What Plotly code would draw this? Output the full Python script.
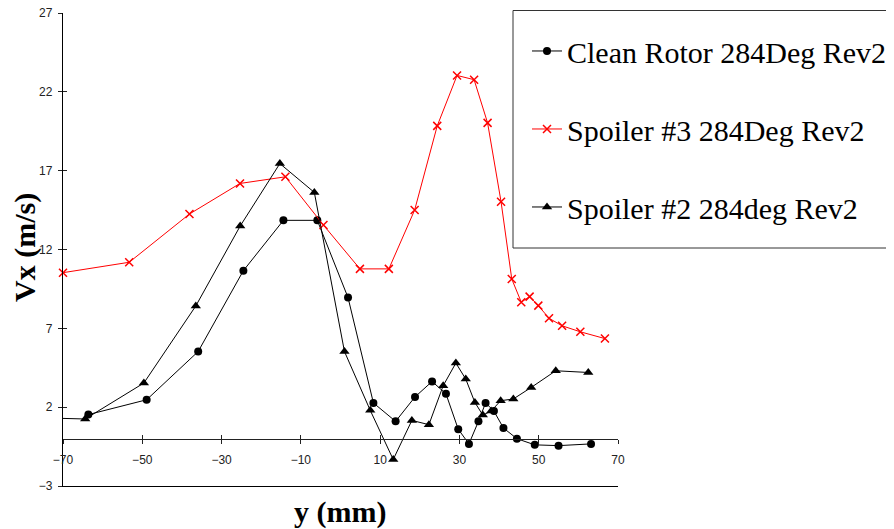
import plotly.graph_objects as go

# ---- data ----
clean_x = [-63.6, -48.9, -35.9, -24.5, -14.4, -5.85, 1.9, 8.3, 13.9, 18.8, 23.1, 26.6,
           29.7, 32.4, 34.8, 36.6, 38.7, 41.1, 44.5, 49.0, 55.0, 63.2]
clean_y = [1.53, 2.47, 5.53, 10.66, 13.85, 13.85, 8.95, 2.27, 1.1, 2.65, 3.63, 2.85,
           0.6, -0.33, 1.1, 2.27, 1.75, 0.68, 0.0, -0.39, -0.44, -0.33]

sp3_x = [-70, -53.3, -38.1, -25.35, -13.9, -4.3, 4.9, 12.2, 18.7, 24.4, 29.4, 33.7,
         37.1, 40.5, 43.2, 45.6, 47.7, 49.9, 52.6, 55.9, 60.5, 66.7]
sp3_y = [10.53, 11.19, 14.25, 16.19, 16.61, 13.55, 10.77, 10.77, 14.5, 19.84, 23.04, 22.77,
         20.03, 15.03, 10.13, 8.66, 9.01, 8.44, 7.64, 7.16, 6.78, 6.35]

sp2_x = [-72, -64.4, -49.6, -36.5, -25.3, -15.3, -6.6, 1.0, 7.5, 13.3, 18.0, 22.3, 25.9,
         29.1, 31.6, 33.9, 35.9, 38.0, 40.4, 43.6, 48.1, 54.3, 62.5]
sp2_y = [1.3, 1.25, 3.53, 8.42, 13.49, 17.45, 15.62, 5.53, 1.8, -1.32, 1.16, 0.89, 3.36,
         4.8, 3.78, 2.3, 1.5, 1.75, 2.41, 2.52, 3.25, 4.31, 4.2]

series_names = ["Clean Rotor 284Deg Rev2", "Spoiler #3 284Deg Rev2", "Spoiler #2 284deg Rev2"]

x_ticks = [-70, -50, -30, -10, 10, 30, 50, 70]
y_ticks = [-3, 2, 7, 12, 17, 22, 27]
x_range = [-70, 70]
y_range = [-3, 27]

x_title = "y (mm)"
y_title = "Vx (m/s)"

SERIF = "Liberation Serif"
SANS = "Liberation Sans"

# plot area as seen on the page (the page body adds an 8px offset)
PL, PR, PT, PB = 63, 618, 12.5, 486.5
OFF = 8
PW, PH = PR - PL, PB - PT


def px(v):
    return (v - PL) / PW


def py(v):
    return (PB - v) / PH


fig = go.Figure()
fig.add_trace(go.Scatter(
    x=clean_x, y=clean_y, name=series_names[0], mode="lines+markers",
    line=dict(color="black", width=1), marker=dict(symbol="circle", size=8, color="black"),
    legendgroup="a", cliponaxis=False))
fig.add_trace(go.Scatter(
    x=sp3_x, y=sp3_y, name=series_names[1], mode="lines+markers",
    line=dict(color="#ff0000", width=1),
    marker=dict(symbol="x-thin", size=8, color="#ff0000", line=dict(color="#ff0000", width=1.5)),
    legendgroup="b", cliponaxis=False))
fig.add_trace(go.Scatter(
    x=sp2_x, y=sp2_y, name=series_names[2], mode="lines+markers",
    line=dict(color="black", width=1), marker=dict(symbol="triangle-up", size=9, color="black"),
    legendgroup="c", cliponaxis=True))
# empty helper traces so the overlaid axes (zero line with ticks, crossing ticks) are drawn
fig.add_trace(go.Scatter(x=[], y=[], xaxis="x2", yaxis="y", showlegend=False, hoverinfo="skip"))
fig.add_trace(go.Scatter(x=[], y=[], xaxis="x3", yaxis="y", showlegend=False, hoverinfo="skip"))
fig.add_trace(go.Scatter(x=[], y=[], xaxis="x", yaxis="y2", showlegend=False, hoverinfo="skip"))

zero_pos = (0 - y_range[0]) / (y_range[1] - y_range[0])

fig.update_layout(
    template="none",
    width=894, height=529,
    margin=dict(l=PL - OFF, r=894 - (PR - OFF), t=PT - OFF, b=529 - (PB - OFF), pad=0),
    paper_bgcolor="white", plot_bgcolor="white",
    showlegend=True,
    xaxis=dict(range=x_range, showline=True, linecolor="black", linewidth=1.3,
               showgrid=False, zeroline=False, showticklabels=False, ticks="",
               automargin=False),
    xaxis2=dict(range=x_range, overlaying="x", anchor="free", position=zero_pos,
                side="bottom", showline=True, linecolor="#222", linewidth=1,
                tickmode="array", tickvals=x_ticks, ticks="outside", ticklen=4,
                tickcolor="#222", showgrid=False, zeroline=False, automargin=False,
                ticklabeloverflow="allow",
                tickfont=dict(family=SANS, size=12, color="#222"), ticklabelstandoff=6),
    xaxis3=dict(range=x_range, overlaying="x", anchor="free", position=zero_pos,
                side="bottom", showline=False, tickmode="array", tickvals=x_ticks,
                ticks="inside", ticklen=4, tickcolor="#222", showticklabels=False,
                showgrid=False, zeroline=False, automargin=False),
    yaxis=dict(range=y_range, showline=True, linecolor="black", linewidth=1.3,
               tickmode="array", tickvals=y_ticks, ticks="outside", ticklen=4,
               tickcolor="#222", showgrid=False, zeroline=False, automargin=False,
               ticklabeloverflow="allow",
               tickfont=dict(family=SANS, size=12, color="#222"), ticklabelstandoff=3),
    yaxis2=dict(range=y_range, overlaying="y", anchor="x", side="left", showline=False,
                tickmode="array", tickvals=y_ticks, ticks="inside", ticklen=4,
                tickcolor="#222", showticklabels=False, showgrid=False, zeroline=False,
                automargin=False),
    legend=dict(x=px(527), y=py(24.5), xanchor="left", yanchor="top",
                bgcolor="rgba(0,0,0,0)", borderwidth=0,
                font=dict(family=SERIF, size=30, color="black"),
                tracegroupgap=36, itemwidth=30),
    shapes=[dict(type="rect", xref="paper", yref="paper",
                 x0=px(513), x1=px(900), y0=py(248), y1=py(10),
                 line=dict(color="#333", width=1), fillcolor="white", layer="above")],
    annotations=[
        dict(text="<b>" + y_title + "</b>", xref="paper", yref="paper",
             x=px(25), y=py(248), textangle=-90,
             showarrow=False, xanchor="center", yanchor="middle",
             font=dict(family=SERIF, size=30, color="black")),
        dict(text="<b>" + x_title + "</b>", xref="paper", yref="paper",
             x=px(340), y=py(513),
             showarrow=False, xanchor="center", yanchor="middle",
             font=dict(family=SERIF, size=30, color="black")),
    ],
)

fig.write_html("out.html")
